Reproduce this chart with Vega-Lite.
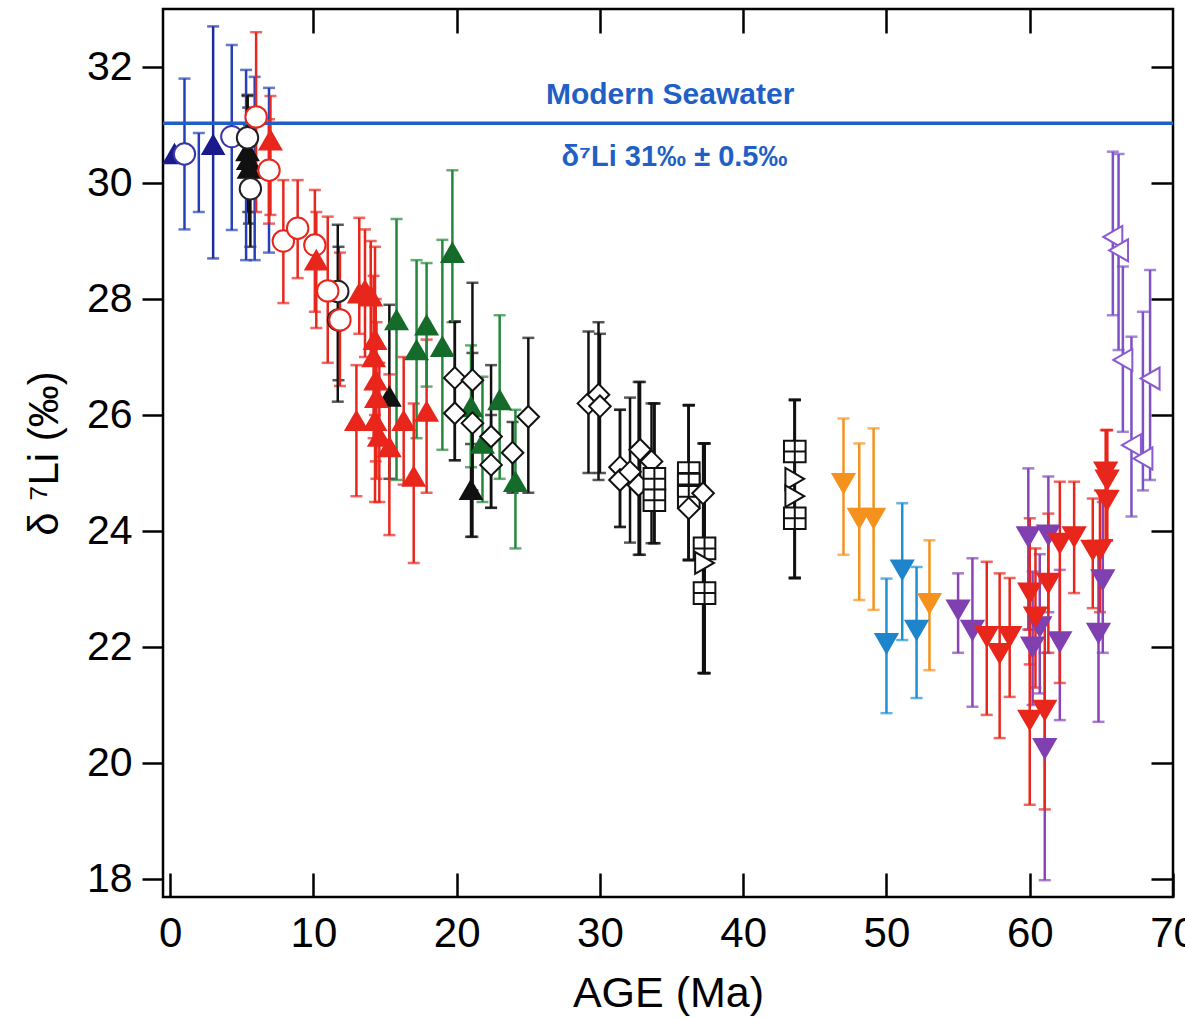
{
  "$schema": "https://vega.github.io/schema/vega-lite/v6.json",
  "width": 1010,
  "height": 888,
  "autosize": "none",
  "padding": {"left": 163, "top": 9, "right": 12, "bottom": 121},
  "background": "white",
  "config": {"view": {"stroke": "black", "strokeWidth": 2.5}, "font": "Liberation Sans"},
  "datasets": {
    "pts": [
      {"s": "blueBar", "age": 2.0, "y": null, "lo": 29.5, "hi": 30.86},
      {"s": "blueBar", "age": 5.3, "y": null, "lo": 28.67, "hi": 31.95},
      {"s": "blueBar", "age": 5.9, "y": null, "lo": 28.67, "hi": 31.83},
      {"s": "blueBar", "age": 6.9, "y": null, "lo": 28.8, "hi": 31.64},
      {"s": "navyTri", "age": 0.3, "y": 30.5, "lo": null, "hi": null},
      {"s": "navyTri", "age": 3.0, "y": 30.66, "lo": 28.7, "hi": 32.7},
      {"s": "blueCirc", "age": 1.0, "y": 30.5, "lo": 29.2, "hi": 31.8},
      {"s": "blueCirc", "age": 4.3, "y": 30.8, "lo": 29.19, "hi": 32.38},
      {"s": "blackTri", "age": 5.4, "y": 30.55, "lo": 29.8, "hi": 31.5},
      {"s": "blackTri", "age": 5.45, "y": 30.4, "lo": 29.5, "hi": 31.3},
      {"s": "blackTri", "age": 5.5, "y": 30.25, "lo": 29.3, "hi": 31.0},
      {"s": "blackTri", "age": 15.3, "y": 26.32, "lo": 24.9, "hi": 27.9},
      {"s": "blackTri", "age": 21.0, "y": 24.71, "lo": 23.9, "hi": 25.5},
      {"s": "blackCirc", "age": 5.4, "y": 30.78, "lo": 29.9, "hi": 31.52},
      {"s": "blackCirc", "age": 5.6, "y": 29.9, "lo": 28.9, "hi": 30.9},
      {"s": "blackCirc", "age": 11.7, "y": 28.13, "lo": 26.23, "hi": 29.28},
      {"s": "blackCirc", "age": 11.75, "y": 27.64, "lo": 26.6, "hi": 28.9},
      {"s": "redCirc", "age": 6.0, "y": 31.14, "lo": 29.5, "hi": 32.6},
      {"s": "redCirc", "age": 6.9, "y": 30.22, "lo": 29.3, "hi": 31.1},
      {"s": "redCirc", "age": 7.9, "y": 29.0, "lo": 27.93, "hi": 30.05},
      {"s": "redCirc", "age": 8.9, "y": 29.22, "lo": 28.36, "hi": 30.05},
      {"s": "redCirc", "age": 10.1, "y": 28.93, "lo": 27.78, "hi": 29.88},
      {"s": "redCirc", "age": 11.0, "y": 28.14, "lo": 26.9, "hi": 29.42},
      {"s": "redCirc", "age": 11.85, "y": 27.64, "lo": 26.5, "hi": 28.8},
      {"s": "redTri", "age": 7.0, "y": 30.74, "lo": 29.45, "hi": 31.5},
      {"s": "redTri", "age": 10.2, "y": 28.67, "lo": 27.5, "hi": 29.5},
      {"s": "redTri", "age": 13.2, "y": 28.1, "lo": 27.4, "hi": 29.4},
      {"s": "redTri", "age": 13.6, "y": 28.15, "lo": 27.0, "hi": 29.2},
      {"s": "redTri", "age": 14.0, "y": 28.05, "lo": 26.9, "hi": 29.0},
      {"s": "redTri", "age": 14.3, "y": 27.3, "lo": 26.0, "hi": 28.9},
      {"s": "redTri", "age": 14.2, "y": 27.0, "lo": 25.6, "hi": 28.4},
      {"s": "redTri", "age": 14.35, "y": 26.6, "lo": 25.2, "hi": 28.0},
      {"s": "redTri", "age": 14.4, "y": 26.3, "lo": 24.9, "hi": 27.6},
      {"s": "redTri", "age": 14.3, "y": 25.9, "lo": 24.5, "hi": 27.2},
      {"s": "redTri", "age": 13.0, "y": 25.9, "lo": 24.6, "hi": 26.86},
      {"s": "redTri", "age": 14.6, "y": 25.63, "lo": 24.5, "hi": 26.9},
      {"s": "redTri", "age": 15.3, "y": 25.45, "lo": 23.93, "hi": 26.7},
      {"s": "redTri", "age": 16.3, "y": 25.9, "lo": 24.8, "hi": 27.0},
      {"s": "redTri", "age": 17.0, "y": 24.94, "lo": 23.45, "hi": 26.2},
      {"s": "redTri", "age": 17.9, "y": 26.06, "lo": 24.66, "hi": 27.3},
      {"s": "greenTri", "age": 15.8, "y": 27.64, "lo": 24.88, "hi": 29.38},
      {"s": "greenTri", "age": 17.2, "y": 27.12, "lo": 25.6, "hi": 28.67},
      {"s": "greenTri", "age": 17.9, "y": 27.55, "lo": 26.49, "hi": 28.62},
      {"s": "greenTri", "age": 19.0, "y": 27.18, "lo": 25.4, "hi": 29.02},
      {"s": "greenTri", "age": 19.7, "y": 28.8, "lo": 27.6, "hi": 30.22},
      {"s": "greenTri", "age": 21.0, "y": 26.14, "lo": 25.1, "hi": 27.2},
      {"s": "greenTri", "age": 21.8, "y": 25.51, "lo": 24.5, "hi": 26.66},
      {"s": "greenTri", "age": 23.0, "y": 26.26, "lo": 24.9, "hi": 27.72},
      {"s": "greenTri", "age": 24.1, "y": 24.85, "lo": 23.7, "hi": 26.09},
      {"s": "diamond", "age": 19.87, "y": 26.64, "lo": 25.22, "hi": 27.61},
      {"s": "diamond", "age": 19.87, "y": 26.03, "lo": 25.22, "hi": 27.61},
      {"s": "diamond", "age": 21.1, "y": 26.6, "lo": 23.9, "hi": 28.28},
      {"s": "diamond", "age": 21.1, "y": 25.86, "lo": 24.7, "hi": 27.07},
      {"s": "diamond", "age": 22.4, "y": 25.63, "lo": 24.4, "hi": 26.86},
      {"s": "diamond", "age": 22.4, "y": 25.14, "lo": 24.4, "hi": 26.0},
      {"s": "diamond", "age": 23.9, "y": 25.35, "lo": 24.66, "hi": 25.88},
      {"s": "diamond", "age": 25.0, "y": 25.97, "lo": 24.66, "hi": 27.33},
      {"s": "diamond", "age": 29.2, "y": 26.2, "lo": 25.0, "hi": 27.44},
      {"s": "diamond", "age": 29.9, "y": 26.35, "lo": 24.88, "hi": 27.6},
      {"s": "diamond", "age": 30.0, "y": 26.15, "lo": 25.0, "hi": 27.4},
      {"s": "diamond", "age": 31.4, "y": 25.1, "lo": 24.07, "hi": 26.09},
      {"s": "diamond", "age": 31.4, "y": 24.88, "lo": 24.07, "hi": 26.09},
      {"s": "diamond", "age": 32.1, "y": 25.02, "lo": 23.8, "hi": 26.3},
      {"s": "diamond", "age": 32.8, "y": 25.4, "lo": 23.59, "hi": 26.57},
      {"s": "diamond", "age": 32.7, "y": 24.79, "lo": 23.59, "hi": 26.57},
      {"s": "diamond", "age": 33.6, "y": 25.2, "lo": 23.79, "hi": 26.2},
      {"s": "sqCross", "age": 33.8, "y": 24.9, "lo": 23.79, "hi": 26.2},
      {"s": "sqCross", "age": 33.8, "y": 24.53, "lo": 23.79, "hi": 26.2},
      {"s": "sqCross", "age": 36.2, "y": 25.0, "lo": 23.5, "hi": 26.17},
      {"s": "sqCross", "age": 36.2, "y": 24.8, "lo": 23.5, "hi": 26.17},
      {"s": "sqCross", "age": 36.2, "y": 24.59, "lo": 23.5, "hi": 26.17},
      {"s": "diamond", "age": 36.2, "y": 24.39, "lo": 23.5, "hi": 26.17},
      {"s": "diamond", "age": 37.2, "y": 24.65, "lo": 21.55, "hi": 25.51},
      {"s": "sqCross", "age": 37.3, "y": 23.7, "lo": 21.55, "hi": 25.51},
      {"s": "triR", "age": 37.3, "y": 23.45, "lo": 21.55, "hi": 25.51},
      {"s": "sqCross", "age": 37.3, "y": 22.93, "lo": 21.55, "hi": 25.51},
      {"s": "sqCross", "age": 43.6, "y": 25.37, "lo": 23.19, "hi": 26.26},
      {"s": "triR", "age": 43.6, "y": 24.9, "lo": 23.19, "hi": 26.26},
      {"s": "triR", "age": 43.6, "y": 24.6, "lo": 23.19, "hi": 26.26},
      {"s": "sqCross", "age": 43.6, "y": 24.22, "lo": 23.19, "hi": 26.26},
      {"s": "orangeTri", "age": 47.0, "y": 24.82, "lo": 23.59, "hi": 25.94},
      {"s": "orangeTri", "age": 48.1, "y": 24.22, "lo": 22.81, "hi": 25.51},
      {"s": "orangeTri", "age": 49.1, "y": 24.22, "lo": 22.64, "hi": 25.77},
      {"s": "orangeTri", "age": 53.0, "y": 22.75, "lo": 21.6, "hi": 23.84},
      {"s": "cyanTri", "age": 50.0, "y": 22.06, "lo": 20.86, "hi": 23.18},
      {"s": "cyanTri", "age": 51.1, "y": 23.33, "lo": 22.12, "hi": 24.48},
      {"s": "cyanTri", "age": 52.1, "y": 22.29, "lo": 21.12, "hi": 23.38},
      {"s": "purpleTri", "age": 55.0, "y": 22.64, "lo": 21.9, "hi": 23.27},
      {"s": "purpleTri", "age": 56.0, "y": 22.29, "lo": 20.97, "hi": 23.53},
      {"s": "purpleTri", "age": 59.9, "y": 23.9, "lo": 22.3, "hi": 25.08},
      {"s": "purpleTri", "age": 61.3, "y": 23.93, "lo": 22.6, "hi": 24.94},
      {"s": "purpleTri", "age": 60.2, "y": 22.0, "lo": 21.0, "hi": 23.3},
      {"s": "purpleTri", "age": 60.7, "y": 22.35, "lo": 21.2, "hi": 23.6},
      {"s": "purpleTri", "age": 62.1, "y": 22.09, "lo": 20.74, "hi": 23.33},
      {"s": "purpleTri", "age": 61.05, "y": 20.25, "lo": 17.98, "hi": 21.9},
      {"s": "purpleTri", "age": 65.1, "y": 23.16, "lo": 21.9, "hi": 24.5},
      {"s": "purpleTri", "age": 64.8, "y": 22.24, "lo": 20.71, "hi": 23.7},
      {"s": "redDown", "age": 57.0, "y": 22.18, "lo": 20.83, "hi": 23.47},
      {"s": "redDown", "age": 57.9, "y": 21.89, "lo": 20.43, "hi": 23.27},
      {"s": "redDown", "age": 58.6, "y": 22.18, "lo": 21.14, "hi": 23.19},
      {"s": "redDown", "age": 60.0, "y": 22.93, "lo": 21.7, "hi": 24.22},
      {"s": "redDown", "age": 60.0, "y": 20.74, "lo": 19.28, "hi": 22.3},
      {"s": "redDown", "age": 61.05, "y": 20.91, "lo": 19.2, "hi": 22.5},
      {"s": "redDown", "age": 61.3, "y": 23.1, "lo": 21.9, "hi": 24.3},
      {"s": "redDown", "age": 60.4, "y": 22.52, "lo": 21.3, "hi": 23.7},
      {"s": "redDown", "age": 62.1, "y": 23.79, "lo": 21.38, "hi": 24.85},
      {"s": "redDown", "age": 63.1, "y": 23.9, "lo": 22.93, "hi": 24.85},
      {"s": "redDown", "age": 64.4, "y": 23.67, "lo": 22.67, "hi": 24.56},
      {"s": "redDown", "age": 64.9, "y": 23.67, "lo": 22.6, "hi": 24.7},
      {"s": "redDown", "age": 65.3, "y": 25.02, "lo": 23.84, "hi": 25.74},
      {"s": "redDown", "age": 65.4, "y": 24.88, "lo": 23.84, "hi": 25.74},
      {"s": "redDown", "age": 65.4, "y": 24.53, "lo": 23.84, "hi": 25.74},
      {"s": "purpleOpen", "age": 65.8, "y": 29.07, "lo": 27.72, "hi": 30.54},
      {"s": "purpleOpen", "age": 66.2, "y": 28.84, "lo": 27.12, "hi": 30.5},
      {"s": "purpleOpen", "age": 66.5, "y": 26.95, "lo": 25.71, "hi": 28.56},
      {"s": "purpleOpen", "age": 68.4, "y": 26.63, "lo": 24.88, "hi": 28.5},
      {"s": "purpleOpen", "age": 67.1, "y": 25.48, "lo": 24.25, "hi": 27.35},
      {"s": "purpleOpen", "age": 67.9, "y": 25.25, "lo": 24.7, "hi": 27.78}
    ]
  },
  "resolve": {"axis": {"x": "independent", "y": "independent"}},
  "layer": [
    {
      "data": {"name": "pts"},
      "transform": [{"filter": "datum.lo != null"}],
      "mark": {"type": "errorbar", "ticks": {"size": 12}, "thickness": 2.5},
      "encoding": {
        "x": {
          "field": "age", "type": "quantitative",
          "scale": {"domain": [-0.5, 70], "nice": false, "zero": false},
          "axis": {
            "orient": "bottom", "values": [0, 10, 20, 30, 40, 50, 60, 70],
            "domain": false, "grid": false, "tickSize": -24, "tickWidth": 2.5, "tickColor": "black",
            "labelPadding": 40, "labelFlush": false, "labelOverlap": false, "labelBound": false,
            "labelFont": "Liberation Sans", "labelFontSize": 42, "labelColor": "black",
            "title": "AGE (Ma)", "titleFont": "Liberation Sans", "titleFontSize": 43,
            "titleFontWeight": "normal", "titleColor": "black", "titlePadding": 18
          }
        },
        "y": {
          "field": "lo", "type": "quantitative",
          "scale": {"domain": [17.69, 33], "nice": false, "zero": false},
          "axis": {
            "orient": "left", "values": [18, 20, 22, 24, 26, 28, 30, 32],
            "domain": false, "grid": false, "tickSize": 21, "tickWidth": 2.5, "tickColor": "black",
            "labelPadding": 10, "labelFontSize": 41, "labelColor": "black", "labelFlush": false, "labelOverlap": false,
            "title": "δ ⁷Li (‰)", "titleFontSize": 42, "titleFontWeight": "normal", "titleColor": "black", "titlePadding": 20
          }
        },
        "y2": {"field": "hi"},
        "color": {
          "field": "s", "type": "nominal", "legend": null,
          "scale": {
            "domain": ["navyTri","blueCirc","blueBar","blackTri","blackCirc","redCirc","redTri","greenTri","diamond","sqCross","triR","orangeTri","cyanTri","purpleTri","redDown","purpleOpen"],
            "range": ["#1c2c9e","#2440b8","#2440b8","#111111","#111111","#e8261c","#e8261c","#23883c","#111111","#111111","#111111","#f5921e","#2090d4","#8844b8","#e8261c","#7c52c4"]
          }
        }
      }
    },
    {
      "data": {"values": [{"v": 31.03}]},
      "mark": {"type": "rule", "color": "#1f5fc6", "strokeWidth": 3.5},
      "encoding": {"y": {"field": "v", "type": "quantitative", "axis": null}}
    },
    {
      "data": {"name": "pts"},
      "transform": [{"filter": "datum.y != null"}],
      "mark": {"type": "point", "filled": true, "opacity": 1, "strokeWidth": 2},
      "encoding": {
        "x": {
          "field": "age", "type": "quantitative",
          "axis": {"orient": "top", "values": [10, 20, 30, 40, 50, 60], "labels": false, "domain": false, "grid": false,
                   "tickSize": -24, "tickWidth": 2.5, "tickColor": "black", "title": null}
        },
        "y": {
          "field": "y", "type": "quantitative",
          "axis": {"orient": "right", "values": [18, 20, 22, 24, 26, 28, 30, 32], "labels": false, "domain": false, "grid": false,
                   "tickSize": -22, "tickWidth": 2.5, "tickColor": "black", "title": null}
        },
        "shape": {
          "field": "s", "type": "nominal", "legend": null,
          "scale": {
            "domain": ["navyTri","blueCirc","blueBar","blackTri","blackCirc","redCirc","redTri","greenTri","diamond","sqCross","triR","orangeTri","cyanTri","purpleTri","redDown","purpleOpen"],
            "range": ["triangle-up","circle","circle","triangle-up","circle","circle","triangle-up","triangle-up","diamond","M-1,-1H1V1H-1ZM-1,0H1M0,-1V1","triangle-right","triangle-down","triangle-down","triangle-down","triangle-down","triangle-left"]
          }
        },
        "fill": {
          "field": "s", "type": "nominal", "legend": null,
          "scale": {
            "domain": ["navyTri","blueCirc","blueBar","blackTri","blackCirc","redCirc","redTri","greenTri","diamond","sqCross","triR","orangeTri","cyanTri","purpleTri","redDown","purpleOpen"],
            "range": ["#1a1a8a","#ffffff","#ffffff","#111111","#ffffff","#ffffff","#e8261c","#156b2a","#ffffff","#ffffff","#ffffff","#f5921e","#1e84cc","#8040b0","#e8261c","#ffffff"]
          }
        },
        "stroke": {
          "field": "s", "type": "nominal", "legend": null,
          "scale": {
            "domain": ["navyTri","blueCirc","blueBar","blackTri","blackCirc","redCirc","redTri","greenTri","diamond","sqCross","triR","orangeTri","cyanTri","purpleTri","redDown","purpleOpen"],
            "range": ["#1a1a8a","#3a36a8","#2440b8","#111111","#222222","#e8261c","#e8261c","#156b2a","#111111","#111111","#111111","#f5921e","#1e84cc","#8040b0","#e8261c","#8a5ad0"]
          }
        },
        "size": {
          "field": "s", "type": "nominal", "legend": null,
          "scale": {
            "domain": ["navyTri","blueCirc","blueBar","blackTri","blackCirc","redCirc","redTri","greenTri","diamond","sqCross","triR","orangeTri","cyanTri","purpleTri","redDown","purpleOpen"],
            "range": [450,480,480,450,480,480,450,450,420,400,420,450,450,450,450,560]
          }
        }
      }
    },
    {
      "data": {"values": [{"t": "Modern Seawater", "a": 34.9, "v": 31.52}]},
      "mark": {"type": "text", "font": "Liberation Sans", "fontWeight": "bold", "fontSize": 30, "color": "#1f5fc6", "align": "center", "baseline": "middle"},
      "encoding": {
        "x": {"field": "a", "type": "quantitative", "axis": null},
        "y": {"field": "v", "type": "quantitative", "axis": null},
        "text": {"field": "t"}
      }
    },
    {
      "data": {"values": [{"t": "δ⁷Li 31‰ ± 0.5‰", "a": 35.2, "v": 30.45}]},
      "mark": {"type": "text", "font": "Liberation Sans", "fontWeight": "bold", "fontSize": 29, "color": "#1f5fc6", "align": "center", "baseline": "middle"},
      "encoding": {
        "x": {"field": "a", "type": "quantitative", "axis": null},
        "y": {"field": "v", "type": "quantitative", "axis": null},
        "text": {"field": "t"}
      }
    }
  ]
}
